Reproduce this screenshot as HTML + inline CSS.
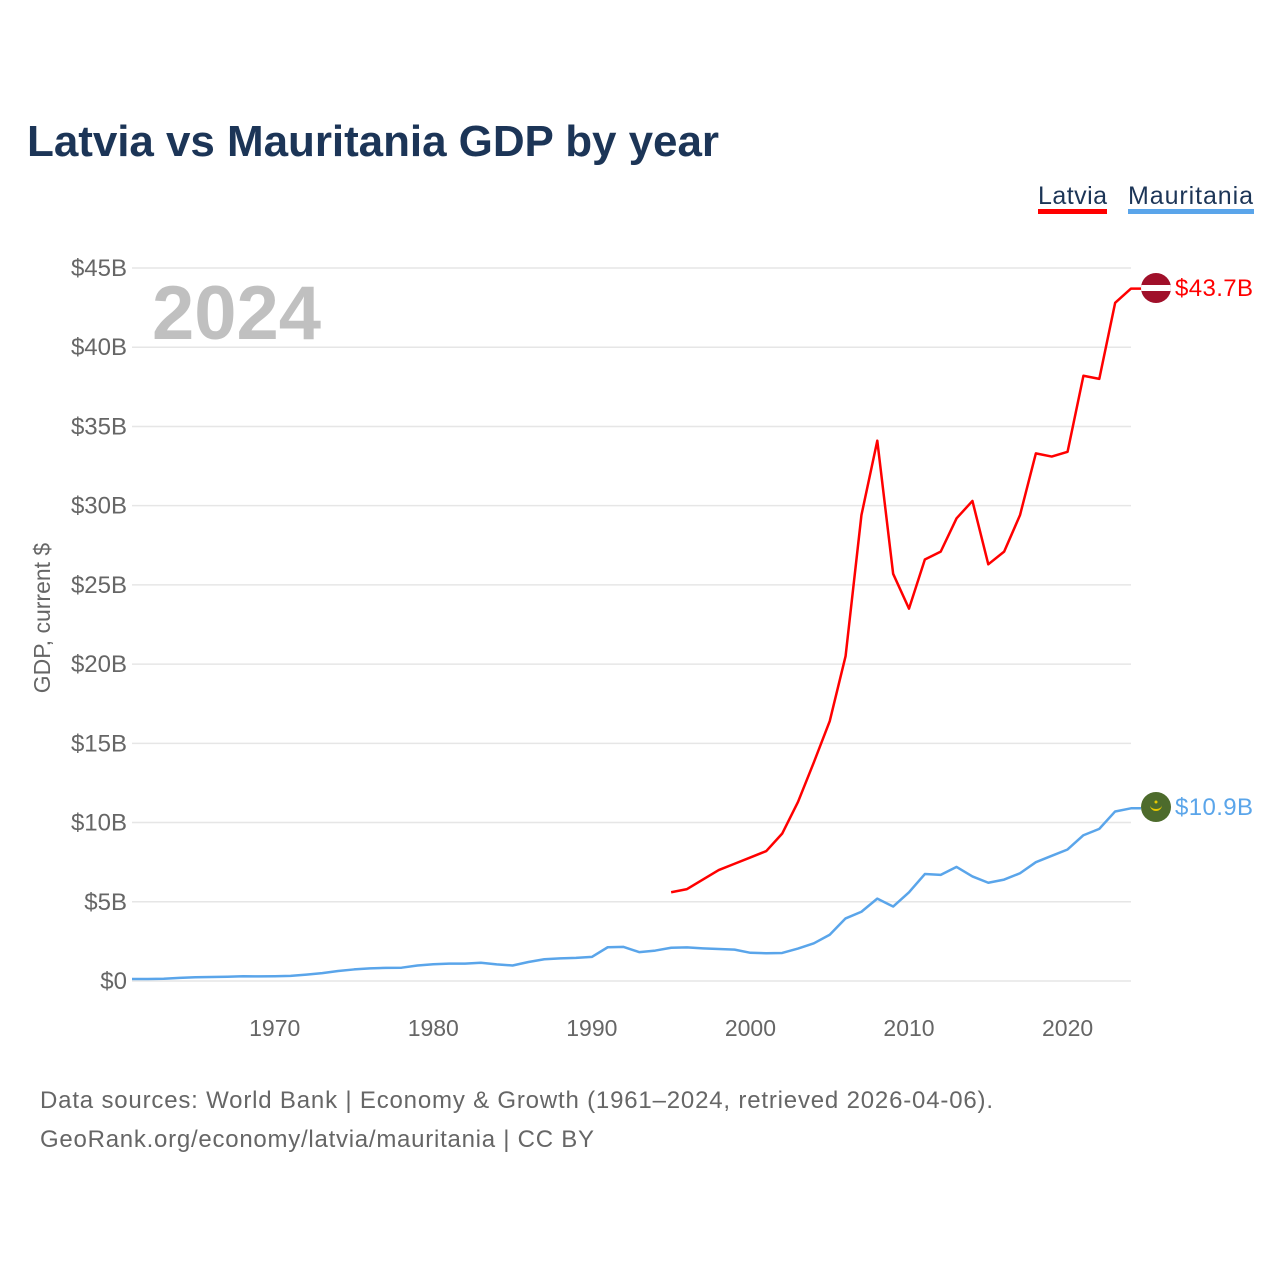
<!DOCTYPE html>
<html><head><meta charset="utf-8"><style>
body{margin:0;background:#fff;font-family:"Liberation Sans",sans-serif}
</style></head><body>
<svg id="chart" width="1280" height="1280" xmlns="http://www.w3.org/2000/svg" font-family="Liberation Sans, sans-serif">
<text x="27" y="156" font-size="44" font-weight="bold" fill="#1c3557" textLength="692">Latvia vs Mauritania GDP by year</text>
<g><text x="1038" y="204" font-size="25" fill="#1c3557" textLength="69">Latvia</text><rect x="1038" y="209" width="69" height="5" fill="#ff0000"/></g>
<g><text x="1128" y="204" font-size="25" fill="#1c3557" textLength="125">Mauritania</text><rect x="1128" y="209" width="126" height="5" fill="#5aa5ea"/></g>
<text x="152" y="339" font-size="76" font-weight="bold" fill="#c0c0c0">2024</text>
<text transform="translate(50,618) rotate(-90)" text-anchor="middle" font-size="23" fill="#666">GDP, current $</text>
<g id="grid"></g><g id="xticks"></g><g id="lines"></g>
<g><clipPath id="c1"><circle cx="1156" cy="288" r="15"/></clipPath><g clip-path="url(#c1)"><rect x="1140" y="272" width="32" height="32" fill="#a0102a"/><rect x="1140" y="285" width="32" height="6" fill="#fff"/></g></g>
<text x="1175" y="296" font-size="24" fill="#ff0000" textLength="78">$43.7B</text>
<g><circle cx="1156" cy="807" r="15" fill="#4d6b2c"/><path d="M1150 805 a6 6 0 0 0 12 0 a6 4 0 0 1 -12 0z" fill="#e8c800"/><circle cx="1156" cy="802" r="1.5" fill="#e8c800"/></g>
<text x="1175" y="815" font-size="24" fill="#5aa5ea" textLength="78">$10.9B</text>
<text x="40" y="1108" font-size="24" fill="#666" textLength="953">Data sources: World Bank | Economy &amp; Growth (1961–2024, retrieved 2026-04-06).</text>
<text x="40" y="1147" font-size="24" fill="#666" textLength="554">GeoRank.org/economy/latvia/mauritania | CC BY</text>
</svg>
<script>
const yTicks=[0,5,10,15,20,25,30,35,40,45];
const xTicks=[1970,1980,1990,2000,2010,2020];
const latviaYears=[1995,1996,1997,1998,1999,2000,2001,2002,2003,2004,2005,2006,2007,2008,2009,2010,2011,2012,2013,2014,2015,2016,2017,2018,2019,2020,2021,2022,2023,2024];
const latviaGdp=[5.6,5.8,6.4,7.0,7.4,7.8,8.2,9.3,11.3,13.8,16.4,20.5,29.4,34.1,25.7,23.5,26.6,27.1,29.2,30.3,26.3,27.1,29.4,33.3,33.1,33.4,38.2,38.0,42.8,43.7];
const mauritaniaStart=1961;
const mauritaniaGdp=[0.13,0.13,0.14,0.2,0.24,0.25,0.27,0.3,0.29,0.3,0.32,0.4,0.5,0.63,0.73,0.8,0.83,0.84,0.98,1.06,1.1,1.1,1.15,1.05,0.98,1.2,1.37,1.43,1.46,1.52,2.13,2.15,1.82,1.92,2.1,2.12,2.06,2.02,1.98,1.78,1.75,1.77,2.05,2.38,2.92,3.95,4.37,5.2,4.7,5.6,6.75,6.7,7.2,6.6,6.2,6.4,6.8,7.5,7.9,8.3,9.2,9.6,10.7,10.9];
const NS='http://www.w3.org/2000/svg';
const X=yr=>132+(yr-1961)*(1131-132)/63;
const Y=v=>981-v*(981-268)/45;
function mk(t,a,p){const e=document.createElementNS(NS,t);for(const k in a)e.setAttribute(k,a[k]);p.appendChild(e);return e;}
const grid=document.getElementById('grid');
yTicks.forEach(v=>{
 const l=mk('line',{x1:132,x2:1131,y1:Y(v),y2:Y(v),stroke:'#e6e6e6','stroke-width':1.5},grid);
 
 
 const t=mk('text',{x:127,y:Y(v)+8,'text-anchor':'end','font-size':24,fill:'#666'},grid);t.textContent='$'+v+'B';
 if(v===0)t.textContent='$0';
 
 
});
const xt=document.getElementById('xticks');
xTicks.forEach(yr=>{
 const t=mk('text',{x:X(yr),y:1036,'text-anchor':'middle','font-size':23,fill:'#666'},xt);t.textContent=yr;
 
 
});
const lines=document.getElementById('lines');
const mp=mauritaniaGdp.map((v,i)=>X(mauritaniaStart+i)+','+Y(v));
mp.push('1141,'+Y(mauritaniaGdp[mauritaniaGdp.length-1]));
const m=mk('polyline',{points:mp.join(' '),fill:'none',stroke:'#5aa5ea','stroke-width':2.5,'stroke-linejoin':'round'},lines);


const lp=latviaGdp.map((v,i)=>X(latviaYears[i])+','+Y(v));
lp.push('1141,'+Y(latviaGdp[latviaGdp.length-1]));
const l=mk('polyline',{points:lp.join(' '),fill:'none',stroke:'#ff0000','stroke-width':2.5,'stroke-linejoin':'round'},lines);


</script>
</body></html>
